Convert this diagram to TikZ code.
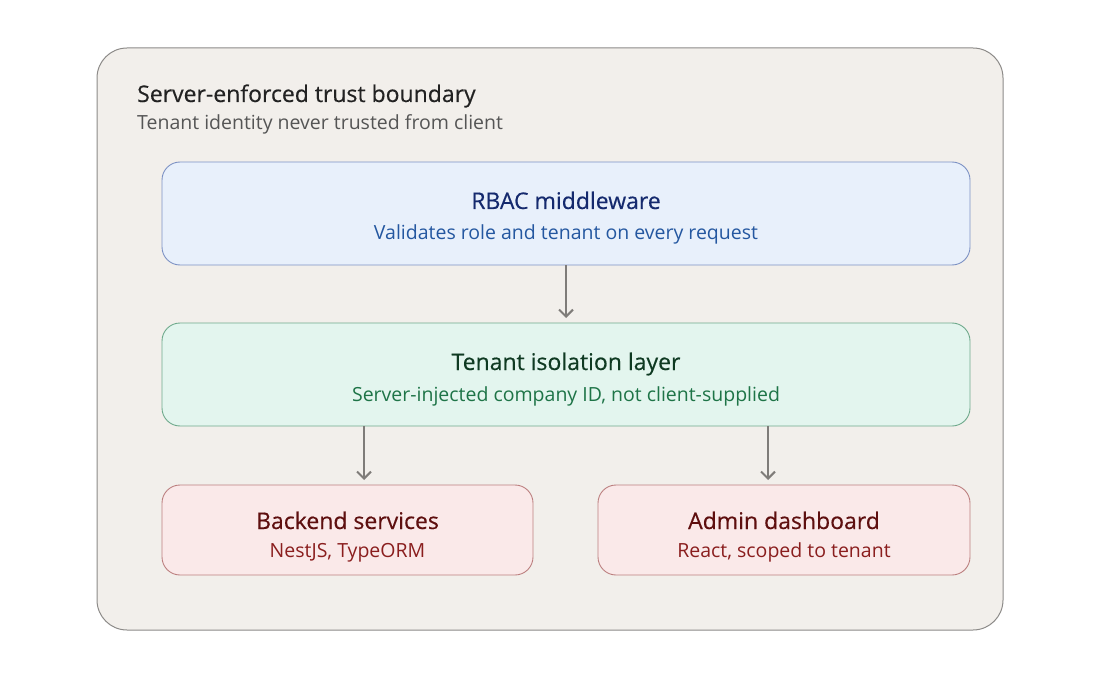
\documentclass[tikz,border=0pt]{standalone}
\usepackage{fontspec}
\setmainfont{Open Sans}
\newfontfamily\headfont[FakeBold=0.35]{Open Sans}
\usetikzlibrary{arrows.meta}
\definecolor{outerfill}{HTML}{F2EFEB}
\definecolor{outerdraw}{HTML}{8C8A88}
\definecolor{titlecol}{HTML}{222222}
\definecolor{subcol}{HTML}{555555}
\definecolor{bluefill}{HTML}{E8F0FB}
\definecolor{bluedraw}{HTML}{7D92C4}
\definecolor{bluetitle}{HTML}{152A6E}
\definecolor{bluesub}{HTML}{2457A0}
\definecolor{greenfill}{HTML}{E3F5EE}
\definecolor{greendraw}{HTML}{6FAA8C}
\definecolor{greentitle}{HTML}{0F3A22}
\definecolor{greensub}{HTML}{1E7447}
\definecolor{redfill}{HTML}{FAE9E9}
\definecolor{reddraw}{HTML}{BC8080}
\definecolor{redtitle}{HTML}{5E0F0F}
\definecolor{redsub}{HTML}{8A1E1E}
\definecolor{arrowcol}{HTML}{7F7C79}
\tikzset{
  x=1pt, y=-1pt,
  layerbox/.style={draw, line width=0.9pt, rounded corners=18pt},
  flow/.style={draw=arrowcol, line width=2pt, -{Straight Barb[length=7pt,width=14pt,line width=2pt]}},
  boxtitle/.style={font=\headfont\fontsize{23}{27}\selectfont, anchor=base},
  boxsub/.style={font=\fontsize{19.5}{23}\selectfont, anchor=base},
}
\begin{document}
\begin{tikzpicture}
\useasboundingbox (0,0) rectangle (1100,679);
% trust boundary
\draw[fill=outerfill, draw=outerdraw, line width=1pt, rounded corners=30pt] (97,48) rectangle (1003,630);
\node[anchor=base west, font=\headfont\fontsize{23}{27}\selectfont, text=titlecol, inner sep=0] (bt) at (137,102) {Server-enforced trust boundary};
\node[anchor=base west, font=\fontsize{19.5}{23}\selectfont, text=subcol, inner sep=0] (bs) at (137,130) {Tenant identity never trusted from client};
% layers
\draw[layerbox, fill=bluefill, draw=bluedraw] (162,162) rectangle (970,265);
\coordinate (rbacT) at (566,162); \coordinate (rbacB) at (566,265);
\node[boxtitle, text=bluetitle] (rt) at (566,209) {RBAC middleware};
\node[boxsub, text=bluesub] (rs) at (566,240) {Validates role and tenant on every request};
\draw[layerbox, fill=greenfill, draw=greendraw] (162,323) rectangle (970,426);
\coordinate (isoT) at (566,323); \coordinate (isoL) at (364,426); \coordinate (isoR) at (768,426);
\node[boxtitle, text=greentitle] (gt) at (566,370) {Tenant isolation layer};
\node[boxsub, text=greensub] (gs) at (566,401) {Server-injected company ID, not client-supplied};
\draw[layerbox, fill=redfill, draw=reddraw] (162,485) rectangle (533,575);
\coordinate (backT) at (364,485);
\node[boxtitle, text=redtitle] (bkt) at (347.5,529) {Backend services};
\node[boxsub, text=redsub] (bks) at (347.5,557) {NestJS, TypeORM};
\draw[layerbox, fill=redfill, draw=reddraw] (598,485) rectangle (970,575);
\coordinate (admT) at (768,485);
\node[boxtitle, text=redtitle] (adt) at (784,529) {Admin dashboard};
\node[boxsub, text=redsub] (ads) at (784,557) {React, scoped to tenant};
% flow
\draw[flow] (rbacB) -- ([yshift=5pt]isoT);
\draw[flow] (isoL) -- ([yshift=5pt]backT);
\draw[flow] (isoR) -- ([yshift=5pt]admT);
\end{tikzpicture}
\end{document}
